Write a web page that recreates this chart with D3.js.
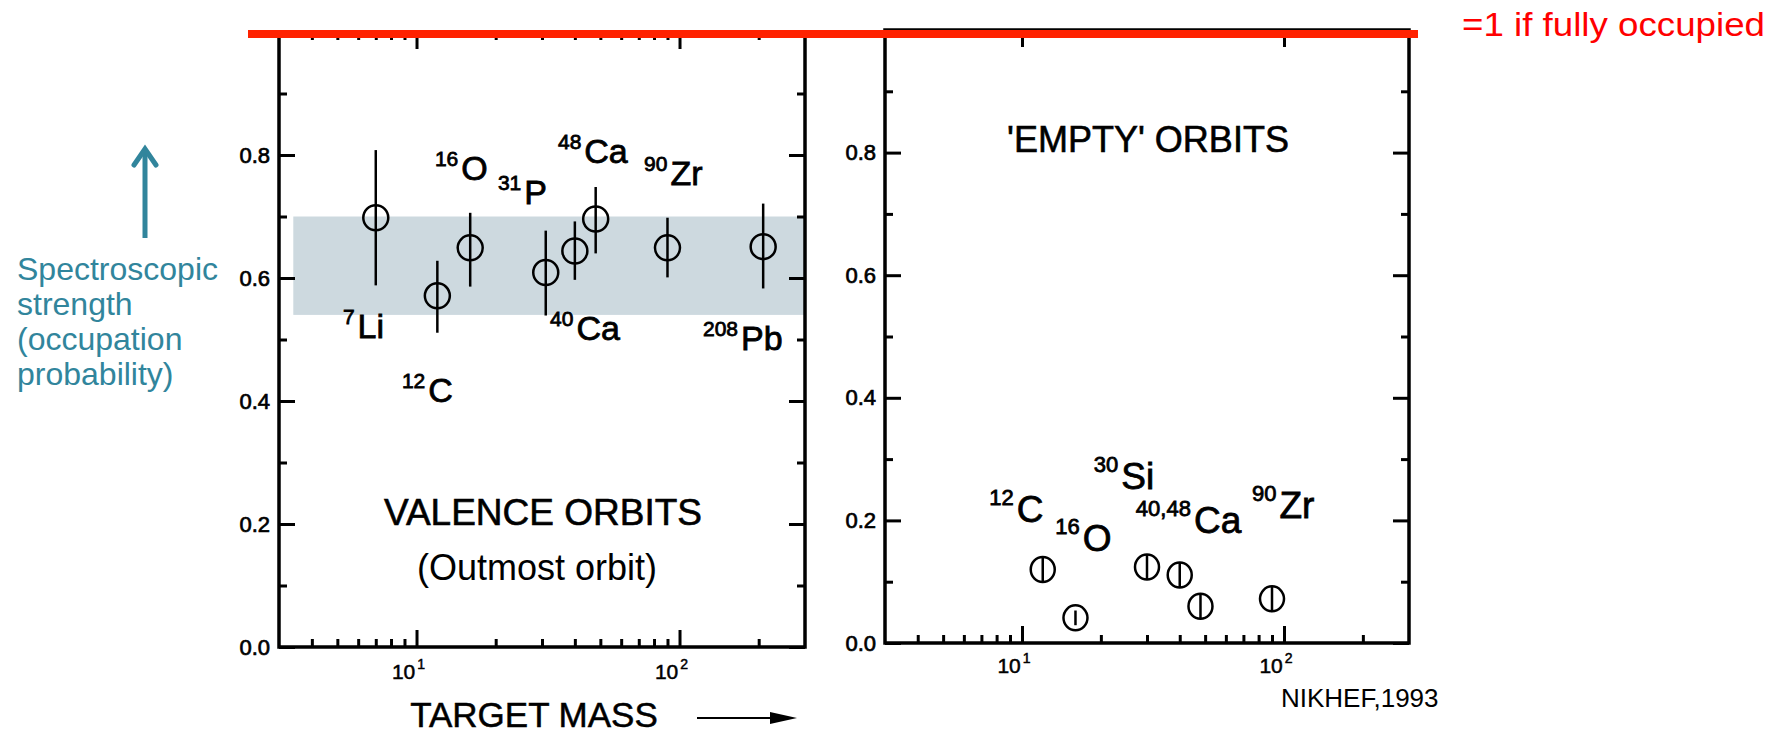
<!DOCTYPE html>
<html>
<head>
<meta charset="utf-8">
<script src="https://cdn.jsdelivr.net/npm/d3@7"></script>
<style>
body{margin:0;background:#fff}
svg{display:block}
</style>
</head>
<body>
<svg id="mySVG" width="1787" height="735"></svg>
<script>
//---valence orbits (left panel)---
var valenceMass = [7, 12, 16, 31, 40, 48, 90, 208]
var valenceS = [0.698, 0.571, 0.649, 0.609, 0.644, 0.696, 0.649, 0.651]
var valenceLo = [0.588, 0.511, 0.586, 0.539, 0.597, 0.640, 0.601, 0.583]
var valenceHi = [0.808, 0.628, 0.706, 0.677, 0.692, 0.748, 0.698, 0.721]
//---'empty' orbits (right panel)---
var emptyMass = [12, 16, 30, 40, 48, 90]
var emptyS = [0.120, 0.041, 0.124, 0.111, 0.060, 0.072]
var emptyErr = [0.020, 0.012, 0.020, 0.020, 0.020, 0.020]
//---shaded band---
var bandS = [0.54, 0.70]
var bandMass = [3.4, 300]
//---axes---
var massDomain = [3, 300]
var yTicks = [0, 0.2, 0.4, 0.6, 0.8]
var yMinor = [0.1, 0.3, 0.5, 0.7, 0.9]
var xMajor = [10, 100]
var xMinor = [4, 5, 6, 7, 8, 9, 20, 30, 40, 50, 60, 70, 80, 90, 200]
//---nuclide labels: [mass number, symbol, mass, strength] (anchor in data units)---
var valenceLabels = [
  ["7", "Li", 5.25, 0.502], ["12", "C", 8.8, 0.398], ["16", "O", 11.75, 0.759],
  ["31", "P", 20.4, 0.720], ["48", "Ca", 34.5, 0.787], ["90", "Zr", 73.3, 0.751],
  ["40", "Ca", 32.2, 0.499], ["208", "Pb", 122.8, 0.483]
]
var emptyLabels = [
  ["12", "C", 7.5, 0.197], ["16", "O", 13.4, 0.150], ["30", "Si", 18.8, 0.252],
  ["40,48", "Ca", 27.2, 0.179], ["90", "Zr", 75.5, 0.204]
]

var FONT = "'Liberation Sans', Arial, Helvetica, sans-serif"
var TEAL = "#31859c"
var MySVG = d3.select("#mySVG").attr("font-family", FONT)

//---one framed log-x panel---
function drawPanel(xr, yr, labelDrop)
{
    var sx = d3.scaleLog().domain(massDomain).range(xr)
    var sy = d3.scaleLinear().domain([0, 1]).range(yr)
    var g = MySVG.append("g")

    var fmt = function(d){ return d.toFixed(1) }
    //---y axes, ticks inward---
    g.append("g").attr("transform", "translate(" + xr[0] + ",0)")
    .call(d3.axisLeft(sy).tickValues(yTicks).tickFormat(fmt).tickSizeInner(-16).tickSizeOuter(0).tickPadding(9))
    g.append("g").attr("transform", "translate(" + xr[0] + ",0)")
    .call(d3.axisLeft(sy).tickValues(yMinor).tickFormat("").tickSizeInner(-8).tickSizeOuter(0))
    g.append("g").attr("transform", "translate(" + xr[1] + ",0)")
    .call(d3.axisRight(sy).tickValues(yTicks).tickFormat("").tickSizeInner(-16).tickSizeOuter(0))
    g.append("g").attr("transform", "translate(" + xr[1] + ",0)")
    .call(d3.axisRight(sy).tickValues(yMinor).tickFormat("").tickSizeInner(-8).tickSizeOuter(0))
    //---x axes---
    g.append("g").attr("transform", "translate(0," + yr[0] + ")")
    .call(d3.axisBottom(sx).tickValues(xMajor).tickFormat("").tickSizeInner(-17).tickSizeOuter(0))
    g.append("g").attr("transform", "translate(0," + yr[0] + ")")
    .call(d3.axisBottom(sx).tickValues(xMinor).tickFormat("").tickSizeInner(-8).tickSizeOuter(0))
    g.append("g").attr("transform", "translate(0," + yr[1] + ")")
    .call(d3.axisTop(sx).tickValues(xMajor).tickFormat("").tickSizeInner(-17).tickSizeOuter(0))
    g.append("g").attr("transform", "translate(0," + yr[1] + ")")
    .call(d3.axisTop(sx).tickValues(xMinor).tickFormat("").tickSizeInner(-8).tickSizeOuter(0))

    g.selectAll(".domain").remove()
    g.selectAll(".tick line").attr("stroke", "#000").attr("stroke-width", 3)
    g.selectAll(".tick text").attr("font-size", 22).attr("fill", "#000")
    .attr("font-family", FONT).attr("stroke", "#000").attr("stroke-width", 0.7)

    //---10^n labels---
    g.selectAll(".xlabtxt").data(xMajor).enter().append("text")
    .attr("x", function(d){ return sx(d) - 8 })
    .attr("y", yr[0] + labelDrop)
    .attr("text-anchor", "middle")
    .attr("font-size", 21)
    .attr("stroke", "#000").attr("stroke-width", 0.5)
    .each(function(d){
        var t = d3.select(this)
        t.append("tspan").text("10")
        t.append("tspan").attr("font-size", 14).attr("dx", 2).attr("dy", -10).text(Math.round(Math.log10(d)))
    })
    return {g: g, sx: sx, sy: sy}
}

function frame(p, xr, yr)
{
    p.g.append("rect")
    .attr("x", xr[0]).attr("y", yr[1])
    .attr("width", xr[1] - xr[0]).attr("height", yr[0] - yr[1])
    .attr("fill", "none").attr("stroke", "#000").attr("stroke-width", 3.5)
}

function nuclide(p, d, mainSize, supSize, rise)
{
    var t = p.g.append("text")
    .attr("x", p.sx(d[2])).attr("y", p.sy(d[3]))
    .attr("fill", "#000").attr("stroke", "#000").attr("stroke-width", 0.8)
    t.append("tspan").attr("font-size", supSize).attr("dy", -rise).text(d[0])
    t.append("tspan").attr("font-size", mainSize).attr("dx", 3).attr("dy", rise).text(d[1])
}

//---left panel---
var LX = [279, 805], LY = [647, 32]
var L = drawPanel(LX, LY, 32)

L.g.insert("rect", ":first-child")
.attr("x", L.sx(bandMass[0]))
.attr("y", L.sy(bandS[1]))
.attr("width", L.sx(bandMass[1]) - L.sx(bandMass[0]))
.attr("height", L.sy(bandS[0]) - L.sy(bandS[1]))
.attr("fill", "#cdd9df")
frame(L, LX, LY)

L.g.selectAll(".ebar").data(valenceMass).enter().append("line")
.attr("x1", function(d){ return L.sx(d) }).attr("x2", function(d){ return L.sx(d) })
.attr("y1", function(d, i){ return L.sy(valenceLo[i]) })
.attr("y2", function(d, i){ return L.sy(valenceHi[i]) })
.attr("stroke", "#000").attr("stroke-width", 2.5)
L.g.selectAll(".pt").data(valenceMass).enter().append("circle")
.attr("cx", function(d){ return L.sx(d) })
.attr("cy", function(d, i){ return L.sy(valenceS[i]) })
.attr("r", 12.5)
.attr("fill", "none").attr("stroke", "#000").attr("stroke-width", 2.5)

valenceLabels.forEach(function(d){ nuclide(L, d, 34, 21, 14) })

L.g.append("text").attr("x", 543).attr("y", 525).attr("text-anchor", "middle")
.attr("font-size", 37).attr("stroke", "#000").attr("stroke-width", 0.6).text("VALENCE ORBITS")
L.g.append("text").attr("x", 537).attr("y", 580).attr("text-anchor", "middle")
.attr("font-size", 36).text("(Outmost orbit)")
L.g.append("text").attr("x", 534).attr("y", 727).attr("text-anchor", "middle")
.attr("font-size", 35).attr("stroke", "#000").attr("stroke-width", 0.5).text("TARGET MASS")
L.g.append("line").attr("x1", 697).attr("y1", 718).attr("x2", 776).attr("y2", 718)
.attr("stroke", "#000").attr("stroke-width", 2)
L.g.append("path").attr("d", "M770,712 L797,718 L770,724 Z").attr("fill", "#000")

//---right panel---
var RX = [885, 1409], RY = [643, 30]
var R = drawPanel(RX, RY, 30)
frame(R, RX, RY)

R.g.selectAll(".ebar").data(emptyMass).enter().append("line")
.attr("x1", function(d){ return R.sx(d) }).attr("x2", function(d){ return R.sx(d) })
.attr("y1", function(d, i){ return R.sy(emptyS[i] - emptyErr[i]) })
.attr("y2", function(d, i){ return R.sy(emptyS[i] + emptyErr[i]) })
.attr("stroke", "#000").attr("stroke-width", 2.5)
R.g.selectAll(".pt").data(emptyMass).enter().append("ellipse")
.attr("cx", function(d){ return R.sx(d) })
.attr("cy", function(d, i){ return R.sy(emptyS[i]) })
.attr("rx", 12).attr("ry", 12.5)
.attr("fill", "none").attr("stroke", "#000").attr("stroke-width", 2.5)

emptyLabels.forEach(function(d){ nuclide(R, d, 37, 22, 17) })

R.g.append("text").attr("x", 1148).attr("y", 152).attr("text-anchor", "middle")
.attr("font-size", 36).attr("stroke", "#000").attr("stroke-width", 0.6).text("'EMPTY' ORBITS")
MySVG.append("text").attr("x", 1281).attr("y", 707)
.attr("font-size", 26).text("NIKHEF,1993")

//---slide annotations---
MySVG.append("line").attr("x1", 248).attr("y1", 34).attr("x2", 1418).attr("y2", 34)
.attr("stroke", "#ff2200").attr("stroke-width", 8)
MySVG.append("text").attr("x", 1462).attr("y", 36)
.attr("font-size", 34).attr("fill", "#ff0000")
.attr("textLength", 303).attr("lengthAdjust", "spacingAndGlyphs")
.text("=1 if fully occupied")

MySVG.append("line").attr("x1", 145).attr("y1", 238).attr("x2", 145).attr("y2", 150)
.attr("stroke", TEAL).attr("stroke-width", 5)
MySVG.append("path").attr("d", "M134,165 L145,149 L156,165")
.attr("fill", "none").attr("stroke", TEAL).attr("stroke-width", 5)
.attr("stroke-linecap", "round")

var sideLines = ["Spectroscopic", "strength", "(occupation", "probability)"]
MySVG.append("text").attr("font-size", 32).attr("fill", TEAL)
.selectAll("tspan").data(sideLines).enter().append("tspan")
.attr("x", 17)
.attr("y", function(d, i){ return 280 + i * 35 })
.text(function(d){ return d })
</script>
</body>
</html>
